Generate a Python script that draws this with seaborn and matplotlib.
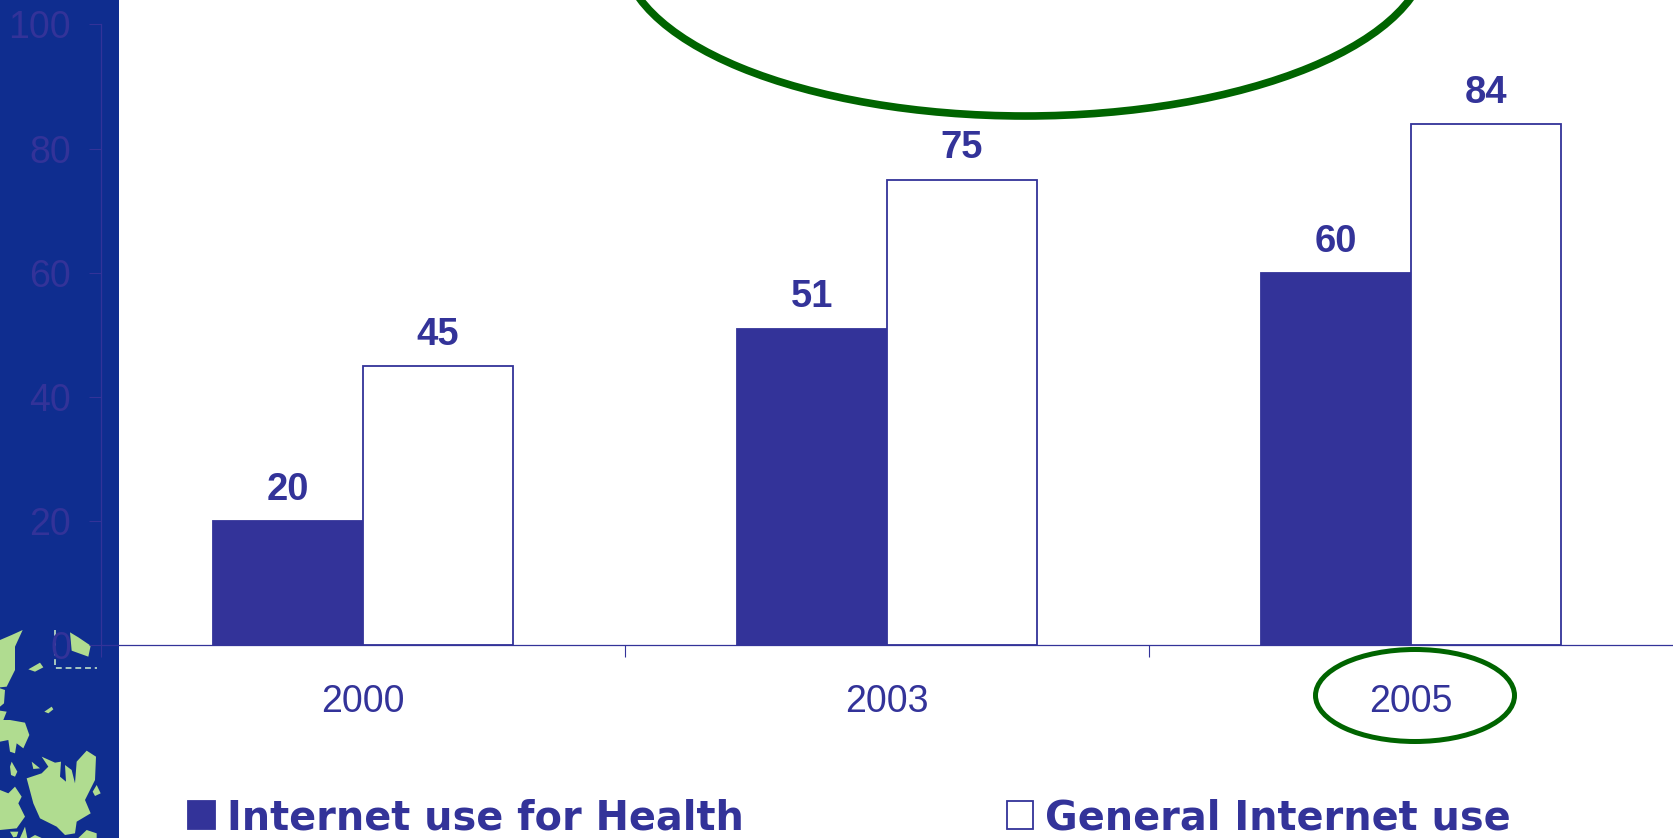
import matplotlib
matplotlib.use("Agg")
import matplotlib.pyplot as plt
import seaborn as sns
import pandas as pd
from matplotlib.patches import Ellipse, Polygon, Rectangle
from matplotlib.lines import Line2D
from matplotlib.transforms import Affine2D

years = ["2000", "2003", "2005"]
health_use = [20, 51, 60]
general_use = [45, 75, 84]
series_names = ["Internet use for Health", "General Internet use"]
y_ticks = [0, 20, 40, 60, 80, 100]

INK = "#333399"
STRIP = "#0f2d8f"
LAND = "#b0dc90"
GREEN = "#006400"
W, H = 1673, 838

sns.set_theme(style="white")
plt.rcParams["font.family"] = ["Liberation Sans", "DejaVu Sans"]

df = pd.DataFrame({
    "year": years * 2,
    "value": health_use + general_use,
    "series": [series_names[0]] * 3 + [series_names[1]] * 3,
})

fig = plt.figure(figsize=(W / 100, H / 100), dpi=100, facecolor="white")
px = Affine2D().scale(1 / W, 1 / H) + fig.transFigure


def P(x, y):
    return (x, H - y)


# decorative side strip with the map
fig.add_artist(Rectangle(P(0, H), 119, H, transform=px, fc=STRIP, ec="none", zorder=-5))
islands = [
    [(0,180),(35,165),(68,150),(45,200),(45,270),(20,320),(0,322)],
    [(85,268),(120,248),(130,262),(105,275)],
    [(210,157),(235,172),(272,197),(265,230),(215,212)],
    [(133,395),(155,380),(160,388),(145,400)],
    [(0,325),(15,330),(12,370),(0,380)],
    [(0,392),(20,395),(10,420),(30,420),(75,428),(88,465),(70,505),(50,490),(45,520),(30,515),(25,480),(0,485)],
    [(35,545),(52,575),(45,590),(33,585),(30,560)],
    [(95,545),(120,565),(100,567)],
    [(125,530),(165,548),(183,545),(180,590),(198,605),(195,555),(215,570),(225,610),(230,545),(260,512),
     (288,530),(285,600),(255,660),(272,700),(230,725),(225,760),(195,765),(170,740),(120,715),(100,670),
     (80,595),(125,580),(145,560)],
    [(290,615),(302,640),(285,648),(278,635)],
    [(0,630),(25,640),(45,620),(65,650),(55,670),(75,710),(50,745),(0,750)],
    [(30,755),(55,755),(50,770),(40,772)],
    [(235,774),(260,750),(290,760),(290,774)],
    [(90,774),(105,765),(125,774)],
    [(60,774),(75,740),(82,774)],
]
for isl in islands:
    pts = [P(x / 3, 580 + y / 3) for x, y in isl]
    fig.add_artist(Polygon(pts, closed=True, transform=px, fc=LAND, ec="none", zorder=-4))
fig.add_artist(Line2D([55, 55, 97], [H - 630, H - 668, H - 668], transform=px, color="#a8c8c0",
                      lw=1.4, ls=(0, (3, 2)), zorder=-4))

ax = fig.add_axes([101 / W, (H - 645) / H, (W - 101) / W, 620.5 / H])
ax.patch.set_alpha(0)

sns.barplot(data=df, x="year", y="value", hue="series", order=years, hue_order=series_names,
            palette={series_names[0]: INK, series_names[1]: "white"}, width=0.572, gap=0,
            edgecolor=INK, linewidth=1.3, saturation=1, ax=ax)
ax.set_xlim(-0.5, 2.5)
ax.set_ylim(0, 100)
ax.set_xlabel("")
ax.set_ylabel("")
ax.set_yticks(y_ticks)
ax.set_xticks([-0.5, 0.5, 1.5], minor=True)
ax.tick_params(axis="x", which="major", length=0, pad=28, labelsize=27, labelcolor=INK)
ax.tick_params(axis="x", which="minor", length=8.5, width=0.8, color=INK, bottom=True)
ax.tick_params(axis="y", length=8.5, width=0.8, color=INK, pad=13, labelsize=27, labelcolor=INK, left=True)
for s in ("top", "right"):
    ax.spines[s].set_visible(False)
for s in ("left", "bottom"):
    ax.spines[s].set_color(INK)
    ax.spines[s].set_linewidth(0.9)

for c in ax.containers:
    ax.bar_label(c, fmt="%g", padding=9.5, fontsize=27.5, fontweight="bold", color=INK)

handles, labels = ax.get_legend_handles_labels()
leg = ax.legend(handles, labels, ncol=2, frameon=False, loc="lower left",
                bbox_to_anchor=(188 / W, 0), bbox_transform=fig.transFigure,
                borderpad=0, borderaxespad=0, handlelength=0.67, handleheight=0.69,
                handletextpad=0.3, columnspacing=6.6,
                prop={"family": "DejaVu Sans", "weight": "bold", "size": 28.7})
for t in leg.get_texts():
    t.set_color(INK)

# green highlight ellipses
fig.add_artist(Ellipse(P(1025, -50), 2 * 403, 2 * 166, transform=px, fc="none", ec=GREEN, lw=5.5, zorder=6))
fig.add_artist(Ellipse(P(1415, 695.5), 199, 92, transform=px, fc="none", ec=GREEN, lw=3.6, zorder=6))

fig.savefig("out.png", dpi=100)
